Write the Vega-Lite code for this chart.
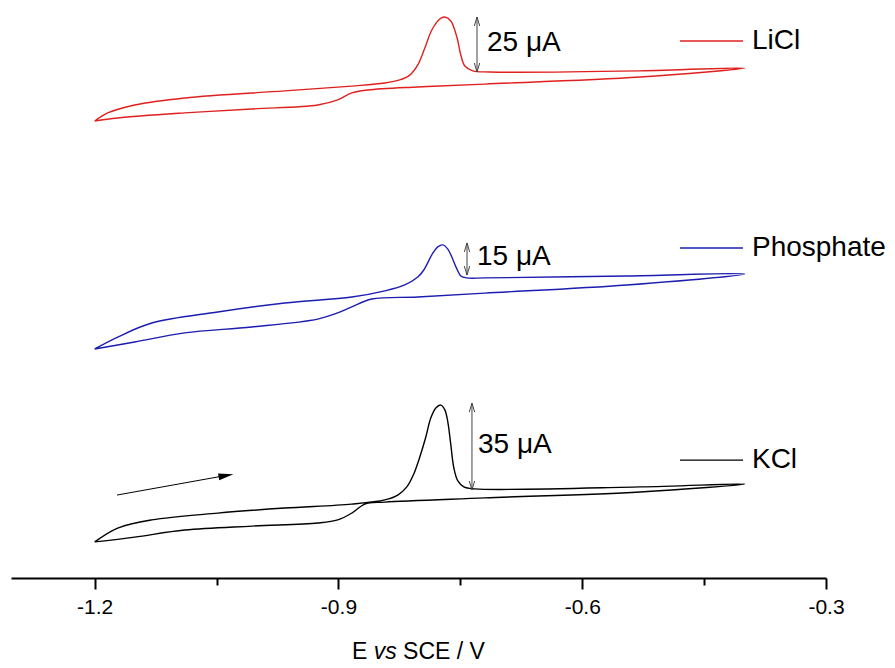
{
  "$schema": "https://vega.github.io/schema/vega-lite/v6.json",
  "width": 815,
  "height": 572,
  "autosize": {"type": "none"},
  "padding": {"left": 11, "top": 6, "right": 69, "bottom": 90},
  "background": "white",
  "config": {"view": {"stroke": null}, "font": "Liberation Sans"},
  "datasets": {
    "curves": [
      {"s":"LiCl","o":1,"E":-1.2,"I":207.7},
      {"s":"LiCl","o":2,"E":-1.184,"I":211.4},
      {"s":"LiCl","o":3,"E":-1.1508,"I":215.0},
      {"s":"LiCl","o":4,"E":-1.0892,"I":218.2},
      {"s":"LiCl","o":5,"E":-0.9661,"I":221.4},
      {"s":"LiCl","o":6,"E":-0.8836,"I":223.6},
      {"s":"LiCl","o":7,"E":-0.843,"I":225.0},
      {"s":"LiCl","o":8,"E":-0.8246,"I":226.4},
      {"s":"LiCl","o":9,"E":-0.8122,"I":228.6},
      {"s":"LiCl","o":10,"E":-0.8024,"I":233.2},
      {"s":"LiCl","o":11,"E":-0.7937,"I":240.9},
      {"s":"LiCl","o":12,"E":-0.7851,"I":249.1},
      {"s":"LiCl","o":13,"E":-0.7753,"I":254.1},
      {"s":"LiCl","o":14,"E":-0.7691,"I":255.0},
      {"s":"LiCl","o":15,"E":-0.7617,"I":253.2},
      {"s":"LiCl","o":16,"E":-0.7543,"I":245.9},
      {"s":"LiCl","o":17,"E":-0.7494,"I":237.7},
      {"s":"LiCl","o":18,"E":-0.7445,"I":232.7},
      {"s":"LiCl","o":19,"E":-0.7347,"I":230.5},
      {"s":"LiCl","o":20,"E":-0.7137,"I":230.0},
      {"s":"LiCl","o":21,"E":-0.5291,"I":230.5},
      {"s":"LiCl","o":22,"E":-0.4,"I":231.8},
      {"s":"LiCl","o":23,"E":-0.5291,"I":227.7},
      {"s":"LiCl","o":24,"E":-0.7199,"I":224.5},
      {"s":"LiCl","o":25,"E":-0.8024,"I":223.2},
      {"s":"LiCl","o":26,"E":-0.8639,"I":221.8},
      {"s":"LiCl","o":27,"E":-0.8836,"I":220.5},
      {"s":"LiCl","o":28,"E":-0.9009,"I":217.3},
      {"s":"LiCl","o":29,"E":-0.9255,"I":215.0},
      {"s":"LiCl","o":30,"E":-1.0067,"I":213.2},
      {"s":"LiCl","o":31,"E":-1.0892,"I":211.4},
      {"s":"LiCl","o":32,"E":-1.1717,"I":209.1},
      {"s":"LiCl","o":33,"E":-1.2,"I":207.7},

      {"s":"Phosphate","o":1,"E":-1.2,"I":104.1},
      {"s":"Phosphate","o":2,"E":-1.1717,"I":109.5},
      {"s":"Phosphate","o":3,"E":-1.1298,"I":115.9},
      {"s":"Phosphate","o":4,"E":-1.0486,"I":120.9},
      {"s":"Phosphate","o":5,"E":-0.9661,"I":125.0},
      {"s":"Phosphate","o":6,"E":-0.8836,"I":127.7},
      {"s":"Phosphate","o":7,"E":-0.843,"I":130.5},
      {"s":"Phosphate","o":8,"E":-0.8184,"I":133.2},
      {"s":"Phosphate","o":9,"E":-0.8024,"I":136.8},
      {"s":"Phosphate","o":10,"E":-0.795,"I":140.0},
      {"s":"Phosphate","o":11,"E":-0.7839,"I":147.7},
      {"s":"Phosphate","o":12,"E":-0.7778,"I":150.5},
      {"s":"Phosphate","o":13,"E":-0.7716,"I":151.4},
      {"s":"Phosphate","o":14,"E":-0.7654,"I":149.5},
      {"s":"Phosphate","o":15,"E":-0.7605,"I":145.9},
      {"s":"Phosphate","o":16,"E":-0.7543,"I":140.5},
      {"s":"Phosphate","o":17,"E":-0.7494,"I":137.3},
      {"s":"Phosphate","o":18,"E":-0.742,"I":136.4},
      {"s":"Phosphate","o":19,"E":-0.7199,"I":136.4},
      {"s":"Phosphate","o":20,"E":-0.5451,"I":137.3},
      {"s":"Phosphate","o":21,"E":-0.4,"I":138.2},
      {"s":"Phosphate","o":22,"E":-0.5451,"I":133.2},
      {"s":"Phosphate","o":23,"E":-0.7199,"I":129.5},
      {"s":"Phosphate","o":24,"E":-0.8024,"I":127.7},
      {"s":"Phosphate","o":25,"E":-0.859,"I":126.8},
      {"s":"Phosphate","o":26,"E":-0.8836,"I":123.2},
      {"s":"Phosphate","o":27,"E":-0.9009,"I":120.5},
      {"s":"Phosphate","o":28,"E":-0.9255,"I":117.7},
      {"s":"Phosphate","o":29,"E":-1.0067,"I":114.1},
      {"s":"Phosphate","o":30,"E":-1.0892,"I":111.4},
      {"s":"Phosphate","o":31,"E":-1.1508,"I":107.3},
      {"s":"Phosphate","o":32,"E":-1.2,"I":104.1},

      {"s":"KCl","o":1,"E":-1.2,"I":16.4},
      {"s":"KCl","o":2,"E":-1.1717,"I":22.7},
      {"s":"KCl","o":3,"E":-1.1298,"I":26.4},
      {"s":"KCl","o":4,"E":-1.0486,"I":29.5},
      {"s":"KCl","o":5,"E":-0.9661,"I":31.8},
      {"s":"KCl","o":6,"E":-0.8836,"I":33.6},
      {"s":"KCl","o":7,"E":-0.843,"I":35.5},
      {"s":"KCl","o":8,"E":-0.827,"I":37.7},
      {"s":"KCl","o":9,"E":-0.8159,"I":41.4},
      {"s":"KCl","o":10,"E":-0.8073,"I":47.3},
      {"s":"KCl","o":11,"E":-0.7999,"I":55.0},
      {"s":"KCl","o":12,"E":-0.7925,"I":64.1},
      {"s":"KCl","o":13,"E":-0.7864,"I":72.7},
      {"s":"KCl","o":14,"E":-0.7802,"I":77.3},
      {"s":"KCl","o":15,"E":-0.774,"I":78.6},
      {"s":"KCl","o":16,"E":-0.7691,"I":76.4},
      {"s":"KCl","o":17,"E":-0.7654,"I":70.9},
      {"s":"KCl","o":18,"E":-0.7617,"I":60.5},
      {"s":"KCl","o":19,"E":-0.758,"I":50.0},
      {"s":"KCl","o":20,"E":-0.7531,"I":44.1},
      {"s":"KCl","o":21,"E":-0.7457,"I":41.4},
      {"s":"KCl","o":22,"E":-0.7322,"I":40.5},
      {"s":"KCl","o":23,"E":-0.5291,"I":41.4},
      {"s":"KCl","o":24,"E":-0.4,"I":42.7},
      {"s":"KCl","o":25,"E":-0.5291,"I":39.1},
      {"s":"KCl","o":26,"E":-0.7199,"I":36.4},
      {"s":"KCl","o":27,"E":-0.843,"I":34.5},
      {"s":"KCl","o":28,"E":-0.8676,"I":33.6},
      {"s":"KCl","o":29,"E":-0.8836,"I":29.5},
      {"s":"KCl","o":30,"E":-0.9009,"I":26.4},
      {"s":"KCl","o":31,"E":-0.9255,"I":25.0},
      {"s":"KCl","o":32,"E":-1.0067,"I":23.6},
      {"s":"KCl","o":33,"E":-1.0892,"I":21.8},
      {"s":"KCl","o":34,"E":-1.1508,"I":18.6},
      {"s":"KCl","o":35,"E":-1.2,"I":16.4}
    ],
    "legend": [
      {"s":"LiCl","E":-0.4797,"E2":-0.4021,"I":244.1,"Et":-0.3911},
      {"s":"Phosphate","E":-0.4797,"E2":-0.4021,"I":150.0,"Et":-0.3911},
      {"s":"KCl","E":-0.4797,"E2":-0.4021,"I":53.6,"Et":-0.3911}
    ],
    "bars": [
      {"s":"LiCl","E":-0.7295,"I":255.0,"I2":230.0,"Et":-0.7172,"It":243.2,"label":"25 μA"},
      {"s":"Phosphate","E":-0.7418,"I":152.3,"I2":137.7,"Et":-0.7295,"It":145.9,"label":"15 μA"},
      {"s":"KCl","E":-0.7357,"I":79.5,"I2":40.0,"Et":-0.7283,"It":60.5,"label":"35 μA"}
    ],
    "heads": [
      {"E":-0.7295,"I":255.0,"d":"up"},
      {"E":-0.7295,"I":230.0,"d":"down"},
      {"E":-0.7418,"I":152.3,"d":"up"},
      {"E":-0.7418,"I":137.7,"d":"down"},
      {"E":-0.7357,"I":79.5,"d":"up"},
      {"E":-0.7357,"I":40.0,"d":"down"}
    ],
    "scan": [
      {"E":-1.1725,"I":37.7,"E2":-1.0384,"I2":46.6}
    ],
    "titleParts": [
      {"t":"E","E":-0.8833,"I":-36.8},
      {"t":"vs","E":-0.8566,"I":-36.8},
      {"t":"SCE / V","E":-0.8205,"I":-36.8}
    ]
  },
  "encoding": {
    "x": {
      "field": "E", "type": "quantitative",
      "scale": {"domain": [-1.303, -0.3], "nice": false, "zero": false},
      "axis": {
        "title": null,
        "values": [-1.2, -1.05, -0.9, -0.75, -0.6, -0.45, -0.3],
        "labelExpr": "round(datum.value*100) % 30 == 0 ? replace(datum.label, '−', '-') : ''",
        "tickSize": {"condition": {"test": "round(datum.value*100) % 30 != 0", "value": 7}, "value": 11},
        "domainColor": "black", "domainWidth": 2,
        "tickColor": "black", "tickWidth": 2,
        "labelFontSize": 21, "labelColor": "black", "labelPadding": 7,
        "labelFont": "Liberation Sans",
        "grid": false, "labelFlush": false, "labelOverlap": false
      }
    },
    "y": {
      "field": "I", "type": "quantitative",
      "scale": {"domain": [0, 260], "nice": false, "zero": false},
      "axis": null
    }
  },
  "layer": [
    {
      "data": {"name": "curves"},
      "mark": {"type": "line", "interpolate": "catmull-rom", "strokeWidth": 1.4},
      "encoding": {
        "color": {"field": "s", "type": "nominal", "scale": {"domain": ["LiCl", "Phosphate", "KCl"], "range": ["#e0201e", "#1c1cb0", "#000000"]}, "legend": null},
        "order": {"field": "o", "type": "quantitative"}
      }
    },
    {
      "data": {"name": "legend"},
      "mark": {"type": "rule", "strokeWidth": 1.4},
      "encoding": {
        "x2": {"field": "E2"},
        "color": {"field": "s", "type": "nominal", "legend": null}
      }
    },
    {
      "data": {"name": "legend"},
      "mark": {"type": "text", "align": "left", "baseline": "middle", "fontSize": 28, "font": "Liberation Sans", "color": "black"},
      "encoding": {
        "x": {"field": "Et", "type": "quantitative"},
        "text": {"field": "s"}
      }
    },
    {
      "data": {"name": "bars"},
      "mark": {"type": "rule", "strokeWidth": 1, "color": "#444444"},
      "encoding": {
        "y2": {"field": "I2"}
      }
    },
    {
      "data": {"name": "heads"},
      "mark": {"type": "point", "filled": false, "stroke": "#444444", "strokeWidth": 1, "size": 324, "opacity": 1},
      "encoding": {
        "shape": {"field": "d", "type": "nominal", "scale": {"domain": ["up", "down"], "range": ["M-0.3,1L0,0L0.3,1", "M-0.3,-1L0,0L0.3,-1"]}, "legend": null}
      }
    },
    {
      "data": {"name": "bars"},
      "mark": {"type": "text", "align": "left", "baseline": "middle", "fontSize": 28, "font": "Liberation Sans", "color": "black"},
      "encoding": {
        "x": {"field": "Et", "type": "quantitative"},
        "y": {"field": "It", "type": "quantitative"},
        "text": {"field": "label"}
      }
    },
    {
      "data": {"name": "scan"},
      "mark": {"type": "rule", "strokeWidth": 1, "color": "black"},
      "encoding": {
        "x2": {"field": "E2"},
        "y2": {"field": "I2"}
      }
    },
    {
      "data": {"name": "scan"},
      "mark": {"type": "point", "filled": true, "color": "black", "shape": "M1,0L-1,-0.45L-1,0.45Z", "size": 225, "angle": -10.3, "opacity": 1},
      "encoding": {
        "x": {"field": "E2", "type": "quantitative"},
        "y": {"field": "I2", "type": "quantitative"}
      }
    },
    {
      "data": {"name": "titleParts"},
      "transform": [{"filter": "datum.t != 'vs'"}],
      "mark": {"type": "text", "align": "left", "baseline": "alphabetic", "fontSize": 23, "font": "Liberation Sans", "color": "black"},
      "encoding": {"text": {"field": "t"}}
    },
    {
      "data": {"name": "titleParts"},
      "transform": [{"filter": "datum.t == 'vs'"}],
      "mark": {"type": "text", "align": "left", "baseline": "alphabetic", "fontSize": 23, "font": "Liberation Sans", "fontStyle": "italic", "color": "black"},
      "encoding": {"text": {"field": "t"}}
    }
  ]
}
